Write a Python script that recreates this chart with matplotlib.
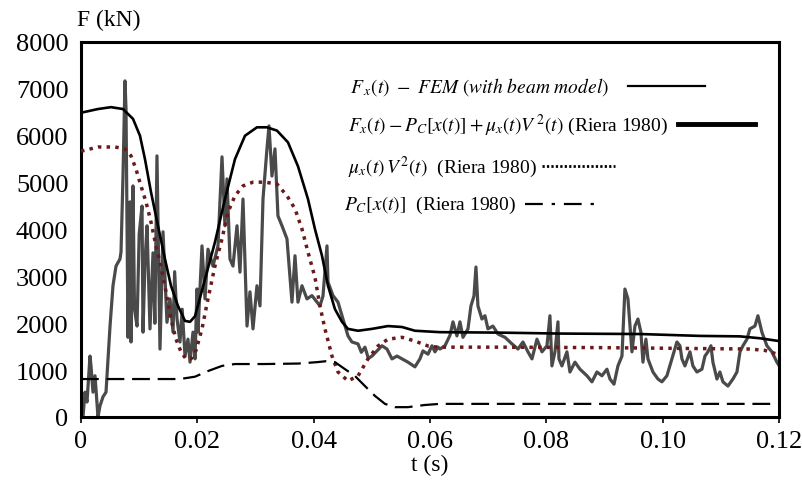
import numpy as np
import matplotlib
matplotlib.use("Agg")
import matplotlib.pyplot as plt

plt.rcParams['font.family'] = ['Liberation Serif', 'DejaVu Serif']
plt.rcParams['mathtext.fontset'] = 'stix'

# FEM force (beam model), time in ms, force in kN
fem_t = [0.0, 0.34, 0.69, 1.03, 1.55, 1.72, 2.06, 2.41, 2.92, 3.27, 3.78, 4.30,
         4.99, 5.50, 6.02, 6.70, 6.88, 7.22, 7.56, 7.74, 8.08, 8.42, 8.60, 8.94,
         9.20, 9.63, 10.00, 10.49, 10.66, 11.00, 11.35, 11.86, 12.38, 12.70,
         13.06, 13.58, 14.10, 14.78, 15.30, 15.82, 16.10, 16.50, 17.02, 17.40,
         17.88, 18.39, 18.74, 19.25, 19.60,
         19.94, 20.11, 20.80, 21.32, 21.83, 22.69, 23.55, 24.24, 24.75, 25.10,
         25.61, 26.13, 26.82, 27.33, 27.85, 28.54, 29.05, 29.57, 30.25, 30.77,
         31.29, 31.97, 32.32, 32.83, 33.35, 33.86, 34.55, 35.41, 36.27, 36.79,
         37.30, 37.99, 38.85, 39.71, 40.57, 41.08, 41.60, 42.29, 42.46, 43.32,
         44.18, 45.04, 45.90, 46.58, 47.62, 48.20, 48.82, 49.40, 50.02, 50.88,
         51.74, 52.60, 53.46, 54.32, 55.18, 56.21, 57.41, 58.27, 58.79, 59.65,
         60.34, 60.85, 61.37, 61.71, 62.57, 63.43, 63.95, 64.63, 65.15, 65.67,
         66.53, 67.04, 67.56, 67.90, 68.24, 68.93, 69.45, 69.96, 70.82, 71.68,
         72.89, 74.09, 75.12, 75.98, 76.84, 77.53, 78.39, 79.25, 80.11, 80.62,
         80.96, 81.48, 82.00, 82.17, 82.68, 83.54, 84.06, 84.92, 85.78, 86.98,
         87.84, 88.70, 89.56, 90.42, 90.94, 91.63, 92.31, 93.00, 93.51, 94.03,
         94.72, 95.23, 95.75, 96.26, 96.61, 97.12, 97.47, 98.33, 99.19, 99.87,
         100.73, 101.59, 102.45, 102.97, 103.31, 103.83, 104.69, 105.20, 105.89,
         106.75, 107.27, 107.78, 108.30, 108.64, 109.33, 109.84, 110.36, 111.22,
         112.08, 112.77, 113.29, 113.80, 114.49, 115.00, 115.86, 116.38, 117.06,
         117.92, 118.78, 119.64, 120.0]
fem_f = [0, 0, 530, 320, 1300, 1090, 530, 880, 0, 240, 430, 530,
         1940, 2800, 3220, 3370, 3520, 5140, 7170, 6570, 1700, 4590, 1600, 4930,
         2300, 1940, 3900, 4500, 1810, 3300, 4080, 1880, 3500, 2000,
         5570, 1450, 3950, 2020, 2520, 1810, 3100, 2100, 1600, 2300,
         1300, 1660, 1170, 1810, 1240,
         2730, 1810, 3650, 2520, 3580, 3220, 3650, 5550, 4080, 5080,
         3370, 3220, 4080, 3090, 4650, 1940, 2670, 1880, 2800, 2370,
         4650, 5720, 6210, 5140, 5720, 4290, 4080, 3800, 2450, 3440,
         2450, 2800, 2520, 2590, 2450, 2370, 2580, 3650, 2880, 2590,
         2450, 2090, 1730, 1600, 1560, 1380, 1490, 1250, 1300, 1410,
         1520, 1450, 1240, 1300, 1240, 1170, 1070, 1240, 1410, 1340,
         1520, 1390, 1490, 1450, 1520, 1740, 2030, 1730, 2030, 1700,
         1880, 2370, 2580, 3200, 2370, 2090, 2160, 1880, 1940, 1770,
         1700, 1560, 1450, 1600, 1390, 1240, 1660, 1390, 1520, 2160,
         1090, 1390, 2030, 1240, 1090, 1390, 960, 1170, 1020, 880,
         750, 960, 880, 1020, 810, 700, 1090, 1300, 2730, 2520,
         1390, 1940, 2090, 1810, 1170, 1660, 1240, 960, 810, 750,
         880, 1240, 1600, 1520, 1240, 1090, 1390, 1090, 960,
         1020, 1300, 1390, 1520, 1170, 810, 960, 750, 660,
         810, 960, 1390, 1520, 1660, 1880, 1940, 2160, 1810,
         1520, 1390, 1170, 1100]

# Riera 1980 total force
riera_t = [0.0, 0.34, 2.92, 5.16, 7.22, 8.94, 10.14, 11.00, 12.03, 13.24, 14.44,
           15.47, 16.67, 17.88, 18.74, 19.60, 21.32, 23.03, 24.75, 26.47, 28.19,
           30.25, 31.97, 33.69, 35.58, 37.30, 39.02, 40.22, 41.43, 42.46, 43.66,
           44.87, 45.90, 47.62, 50.02, 52.77, 55.18, 57.41, 61.71, 72.0, 82.3,
           96.1, 106.4, 113.3, 116.7, 120.0]
riera_f = [6500, 6500, 6570, 6610, 6570, 6360, 6000, 5500, 4800, 4075, 3370,
           2800, 2370, 2050, 2030, 2150, 2940, 3730, 4650, 5500, 6000,
           6180, 6180, 6110, 5860, 5350, 4650, 4010, 3440, 2800, 2300,
           2030, 1880, 1840, 1880, 1940, 1920, 1840, 1810, 1800, 1780,
           1770, 1730, 1720, 1680, 1620]

# mu_x(t) V^2(t)
mu_t = [0.0, 0.34, 2.92, 5.84, 7.56, 8.60, 9.45, 10.31, 11.17, 12.03, 12.89,
        13.75, 14.61, 15.47, 16.33, 17.19, 18.05, 18.91, 19.77, 20.80, 21.83,
        23.03, 24.24, 25.27, 26.47, 27.85, 29.57, 31.63, 33.69, 35.41, 36.79,
        37.99, 39.02, 40.22, 41.08, 41.94, 43.15, 44.18, 45.90, 47.62, 49.34,
        51.06, 52.77, 55.18, 57.41, 59.65, 61.37, 72.0, 89.2, 106.4, 115.0,
        117.6, 120.0]
mu_f = [5680, 5680, 5760, 5760, 5720, 5570, 5290, 4930, 4590, 4160, 3650,
        3220, 2670, 2090, 1660, 1390, 1240, 1240, 1420, 1880, 2520,
        3220, 3800, 4370, 4720, 4930, 5010, 5010, 4970, 4720, 4440,
        4010, 3520, 2980, 2370, 1880, 1300, 960, 770, 875, 1240,
        1515, 1660, 1700, 1620, 1515, 1490, 1490, 1480, 1460, 1450,
        1420, 1330]

# P_C[x(t)]
pc_t = [0.0, 17.0, 19.60, 21.83, 24.24, 26.47, 31.5, 37.3, 40.57, 42.1, 43.66,
        45.39, 47.1, 48.82, 50.54, 52.26, 53.97, 56.2, 59.1, 61.7, 120.0]
pc_f = [810, 810, 860, 980, 1090, 1130, 1130, 1140, 1170, 1190, 1170,
        1020, 875, 660, 450, 280, 210, 210, 256, 280, 280]

x_ticks = [0, 0.02, 0.04, 0.06, 0.08, 0.10, 0.12]
x_labels = ['0', '0.02', '0.04', '0.06', '0.08', '0.10', '0.12']
y_ticks = [0, 1000, 2000, 3000, 4000, 5000, 6000, 7000, 8000]

legend_labels = [r'$F_{\,x}(t)\ -\ FEM\ (with\ beam\ model)$',
                 r'$F_x(t)-P_C[x(t)]+\mu_x(t)V^{\,2}(t)$ (Riera 1980)',
                 r'$\mu_x(t)\,V^2(t)$  (Riera 1980)',
                 r'$P_C[x(t)]$  (Riera 1980)']

W, H = 803, 481
fig = plt.figure(figsize=(W / 100, H / 100), dpi=100)
ax = fig.add_axes([81 / W, 1 - 418 / H, 698 / W, 375 / H])

s = lambda v: np.array(v) / 1000.0
ax.plot(s(fem_t), fem_f, color='#4a4a4a', lw=2.3, zorder=2)
ax.plot(s(mu_t), mu_f, color='#6b1a1a', lw=2.5, dashes=(1, 1.5), zorder=3)
ax.plot(s(pc_t), pc_f, color='black', lw=1.6, dashes=(8, 3.5), zorder=3)
ax.plot(s(riera_t), riera_f, color='black', lw=1.9, zorder=4)

ax.set_xlim(0, 0.12)
ax.set_ylim(0, 8000)
ax.set_xticks(x_ticks)
ax.set_xticklabels(x_labels)
ax.set_yticks(y_ticks)
ax.tick_params(axis='both', labelsize=19, width=1.2, length=4, direction='out')
ax.tick_params(axis='x', pad=5)
ax.tick_params(axis='y', pad=9, length=0)
for sp in ax.spines.values():
    sp.set_linewidth(2.2)

ax.set_xlabel('t (s)', fontsize=17, labelpad=2)
fig.text(77 / W, 1 - 20 / H, 'F (kN)', fontsize=17, va='center', ha='left')

# hand-placed legend (text followed by a line sample)
rows = [(350, 87, 628, 705, dict(lw=1.6)),
        (348, 125, 678, 755, dict(lw=3.5)),
        (348, 167, 542, 615, dict(lw=2.0, dashes=(0.8, 0.8))),
        (344, 205, 525, 600, dict(lw=1.6, dashes=(8, 4, 1.5, 4)))]
for (tx, ty, x0, x1, style), lab in zip(rows, legend_labels):
    fig.text(tx / W, 1 - ty / H, lab, fontsize=14, va='center', ha='left')
    fig.add_artist(plt.Line2D([x0 / W, x1 / W], [1 - ty / H, 1 - ty / H],
                              color='black', transform=fig.transFigure, **style))

fig.savefig('out.png', dpi=100)
